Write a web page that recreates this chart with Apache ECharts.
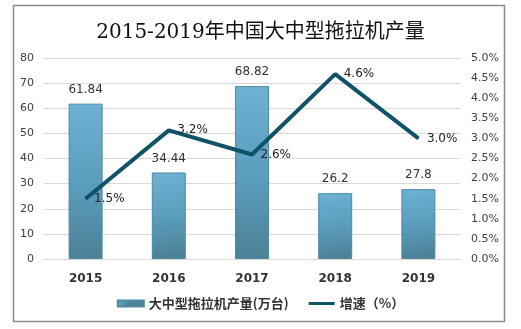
<!DOCTYPE html>
<html>
<head>
<meta charset="utf-8">
<script src="https://cdn.jsdelivr.net/npm/echarts@6/dist/echarts.min.js"></script>
<style>
html,body{margin:0;padding:0;background:#fff;}
#chart{width:521px;height:329px;}
</style>
</head>
<body>
<div id="chart"></div>
<script>
// Yearly output of large & medium tractors and its growth rate
const years = ['2015', '2016', '2017', '2018', '2019'];
const output = [61.84, 34.44, 68.82, 26.2, 27.8];      // 万台
const growth = [1.5, 3.2, 2.6, 4.6, 3.0];              // %
const leftTicks = { min: 0, max: 80, interval: 10 };
const rightTicks = { min: 0, max: 5, interval: 0.5 };

const chart = echarts.init(document.getElementById('chart'));

const barGradient = new echarts.graphic.LinearGradient(0, 0, 0.3, 1, [
  { offset: 0, color: '#6db2d4' },
  { offset: 0.55, color: '#5a9cbb' },
  { offset: 1, color: '#4c8196' }
]);

chart.setOption({
  animation: false,
  graphic: [{
    type: 'rect',
    shape: { x: 13.5, y: 5.5, width: 491, height: 316 },
    style: { fill: 'none', stroke: '#8a8a8a', lineWidth: 1.5 },
    z: -1
  }],
  title: {
    text: '2015-2019年中国大中型拖拉机产量',
    left: 'center',
    top: 18,
    textStyle: {
      fontFamily: '"DejaVu Serif", "Noto Sans CJK SC", serif',
      fontSize: 20,
      fontWeight: 'normal',
      color: '#111'
    }
  },
  legend: {
    bottom: 14,
    left: 'center',
    itemGap: 20,
    itemWidth: 26,
    itemHeight: 6,
    textStyle: {
      fontFamily: '"Noto Sans CJK SC", sans-serif',
      fontSize: 13,
      fontWeight: 'bold',
      color: '#333'
    },
    data: [
      { name: '大中型拖拉机产量(万台)', icon: 'rect' },
      { name: '增速（%）', icon: 'path://M0,0H26V3H0Z' }
    ]
  },
  grid: { left: 44, right: 61, top: 58, bottom: 70 },
  xAxis: {
    type: 'category',
    data: years,
    axisLine: { show: true, lineStyle: { color: '#d9d9d9' } },
    axisTick: { show: false },
    axisLabel: {
      color: '#333',
      fontWeight: 'bold',
      fontSize: 12,
      margin: 14,
      fontFamily: '"DejaVu Sans", sans-serif'
    }
  },
  yAxis: [{
    type: 'value',
    min: leftTicks.min, max: leftTicks.max, interval: leftTicks.interval,
    axisLine: { show: false },
    axisTick: { show: false },
    splitLine: { lineStyle: { color: '#d9d9d9' } },
    axisLabel: { color: '#404040', fontSize: 11, margin: 10, fontFamily: '"DejaVu Sans", sans-serif' }
  }, {
    type: 'value',
    min: rightTicks.min, max: rightTicks.max, interval: rightTicks.interval,
    axisLine: { show: false },
    axisTick: { show: false },
    splitLine: { show: false },
    axisLabel: {
      color: '#404040', fontSize: 11, margin: 11,
      fontFamily: '"DejaVu Sans", sans-serif',
      formatter: v => v.toFixed(1) + '%'
    }
  }],
  series: [{
    name: '大中型拖拉机产量(万台)',
    type: 'bar',
    data: output,
    barWidth: 34,
    itemStyle: { color: barGradient, borderColor: '#4f8aa3', borderWidth: 1 },
    label: {
      show: true, position: 'top', distance: 8,
      color: '#333', fontSize: 12, fontFamily: '"DejaVu Sans", sans-serif'
    }
  }, {
    name: '增速（%）',
    type: 'line',
    yAxisIndex: 1,
    data: growth,
    symbol: 'circle',
    symbolSize: 1,
    showSymbol: true,
    lineStyle: { color: '#0e5368', width: 4 },
    itemStyle: { color: '#0e5368' },
    label: {
      show: true, position: 'right', distance: 8,
      color: '#222', fontSize: 12, fontFamily: '"DejaVu Sans", sans-serif',
      formatter: p => p.value.toFixed(1) + '%'
    },
    z: 5
  }]
});
</script>
</body>
</html>
